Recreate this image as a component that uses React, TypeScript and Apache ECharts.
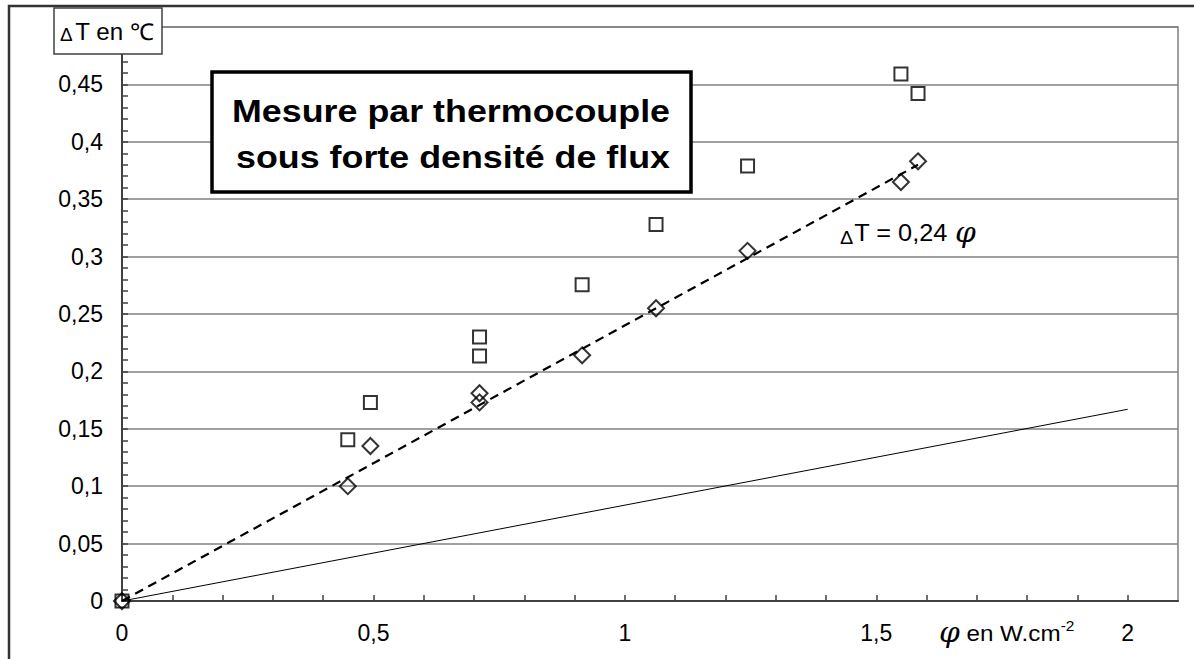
import React, { useEffect, useRef } from 'react';
import * as echarts from 'echarts';

// Flux density phi (W.cm-2) for each measurement
const phi = [0, 0.449, 0.494, 0.711, 0.711, 0.915, 1.062, 1.244, 1.549, 1.583];
// Upper set (squares) and lower set (diamonds), Delta T in degrees C
const dtSquares = [0, 0.1405, 0.173, 0.23, 0.2135, 0.2755, 0.328, 0.379, 0.459, 0.442];
const dtDiamonds = [0, 0.1, 0.135, 0.181, 0.173, 0.214, 0.255, 0.305, 0.365, 0.383];
// Linear fit Delta T = 0.24 phi
const fitPhi = [0, 1.583];
const fitDt = [0, 0.38];
// Reference thin line
const refPhi = [0, 2];
const refDt = [0, 0.167];

const FONT = "'Liberation Sans', Arial, sans-serif";
const SERIF = "'DejaVu Serif', 'Liberation Serif', serif";

const fmt = (v: number) => String(+v.toFixed(2)).replace('.', ',');

export default function App() {
  const ref = useRef<HTMLDivElement>(null);
  useEffect(() => {
    if (!ref.current) return;
    const chart = echarts.init(ref.current, undefined, { renderer: 'svg' });
    const pairs = (xs: number[], ys: number[]) => xs.map((x, i) => [x, ys[i]]);
    chart.setOption({
      animation: false,
      backgroundColor: '#ffffff',
      grid: {
        show: true,
        left: 122,
        top: 27,
        right: 16,
        bottom: 58,
        borderColor: '#808080',
        borderWidth: 1.5,
      },
      xAxis: {
        type: 'value',
        min: 0,
        max: 2.1,
        interval: 0.1,
        axisLine: { onZero: false, lineStyle: { color: '#404040', width: 2 } },
        axisTick: { inside: true, length: 6, lineStyle: { color: '#404040', width: 1.5 } },
        splitLine: { show: false },
        axisLabel: {
          margin: 20,
          color: '#000',
          fontFamily: FONT,
          fontSize: 23,
          showMaxLabel: false,
          formatter: (v: number) => {
            const k = v * 2;
            return Math.abs(k - Math.round(k)) < 1e-6 && v <= 2.0001 ? fmt(v) : '';
          },
        },
      },
      yAxis: {
        type: 'value',
        min: 0,
        max: 0.5,
        interval: 0.05,
        axisLine: { show: true, lineStyle: { color: '#404040', width: 2 } },
        axisTick: { show: true, inside: true, length: 6, lineStyle: { color: '#404040', width: 1.5 } },
        minorTick: { show: true, splitNumber: 5, length: 6, lineStyle: { color: '#404040', width: 1.5 } },
        splitLine: { show: true, lineStyle: { color: '#808080', width: 1.5 } },
        axisLabel: {
          margin: 19,
          color: '#000',
          fontFamily: FONT,
          fontSize: 23,
          formatter: (v: number) => (v > 0.4999 ? '' : fmt(v)),
        },
      },
      series: [
        {
          type: 'line',
          data: pairs(refPhi, refDt),
          symbol: 'none',
          lineStyle: { color: '#000', width: 1 },
          silent: true,
          z: 2,
        },
        {
          type: 'line',
          data: pairs(fitPhi, fitDt),
          symbol: 'none',
          lineStyle: { color: '#000', width: 2.2, type: [9, 6] },
          silent: true,
          z: 3,
        },
        {
          type: 'scatter',
          data: pairs(phi, dtSquares),
          symbol: 'rect',
          symbolSize: 13,
          itemStyle: { color: 'rgba(0,0,0,0)', borderColor: '#000', borderWidth: 2 },
          z: 4,
        },
        {
          type: 'scatter',
          data: pairs(phi, dtDiamonds),
          symbol: 'diamond',
          symbolSize: 16,
          itemStyle: { color: 'rgba(0,0,0,0)', borderColor: '#000', borderWidth: 2 },
          z: 5,
        },
      ],
      graphic: [
        {
          type: 'rect',
          silent: true,
          z: 100,
          shape: { x: 9, y: 6, width: 1400, height: 900 },
          style: { fill: 'none', stroke: '#333', lineWidth: 2.5 },
        },
        {
          type: 'rect',
          z: 100,
          shape: { x: 54, y: 8, width: 108, height: 46 },
          style: { fill: '#fff', stroke: '#404040', lineWidth: 1.5 },
        },
        {
          type: 'text',
          z: 101,
          x: 107,
          y: 32,
          scaleX: 1.05,
          style: {
            text: '{d|Δ}{t|T en ℃}',
            align: 'center',
            verticalAlign: 'middle',
            fill: '#000',
            rich: {
              d: { fontFamily: FONT, fontSize: 18, fill: '#000', verticalAlign: 'bottom', padding: [0, 2, 0, 0] },
              t: { fontFamily: FONT, fontSize: 23, fill: '#000' },
            },
          },
        },
        {
          type: 'rect',
          z: 100,
          shape: { x: 212, y: 72, width: 479, height: 120 },
          style: { fill: '#fff', stroke: '#000', lineWidth: 3.5 },
        },
        {
          type: 'text',
          z: 101,
          x: 451,
          y: 111,
          scaleX: 1.12,
          style: {
            text: 'Mesure par thermocouple',
            align: 'center',
            verticalAlign: 'middle',
            fontFamily: FONT,
            fontWeight: 'bold',
            fontSize: 32,
            fill: '#000',
          },
        },
        {
          type: 'text',
          z: 101,
          x: 453,
          y: 157,
          scaleX: 1.12,
          style: {
            text: 'sous forte densité de flux',
            align: 'center',
            verticalAlign: 'middle',
            fontFamily: FONT,
            fontWeight: 'bold',
            fontSize: 32,
            fill: '#000',
          },
        },
        {
          type: 'text',
          z: 101,
          x: 840,
          y: 233,
          scaleX: 1.1,
          style: {
            text: '{d|Δ}{t|T = 0,24 }{p|φ}',
            align: 'left',
            verticalAlign: 'middle',
            rich: {
              d: { fontFamily: FONT, fontSize: 18, fill: '#000', verticalAlign: 'bottom', padding: [0, 1, 0, 0] },
              t: { fontFamily: FONT, fontSize: 23, fill: '#000' },
              p: { fontFamily: SERIF, fontStyle: 'italic', fontSize: 27, fill: '#000' },
            },
          },
        },
        {
          type: 'text',
          z: 101,
          x: 939,
          y: 633,
          scaleX: 1.1,
          style: {
            text: '{p|φ}{t| en W.cm}{s|-2}',
            align: 'left',
            verticalAlign: 'middle',
            rich: {
              p: { fontFamily: SERIF, fontStyle: 'italic', fontSize: 27, fill: '#000' },
              t: { fontFamily: FONT, fontSize: 22, fill: '#000' },
              s: { fontFamily: FONT, fontSize: 14, fill: '#000', verticalAlign: 'top' },
            },
          },
        },
      ],
    });
    return () => chart.dispose();
  }, []);
  return (
    <div
      ref={ref}
      style={{ position: 'fixed', left: 0, top: 0, width: 1194, height: 659, background: '#fff' }}
    />
  );
}
